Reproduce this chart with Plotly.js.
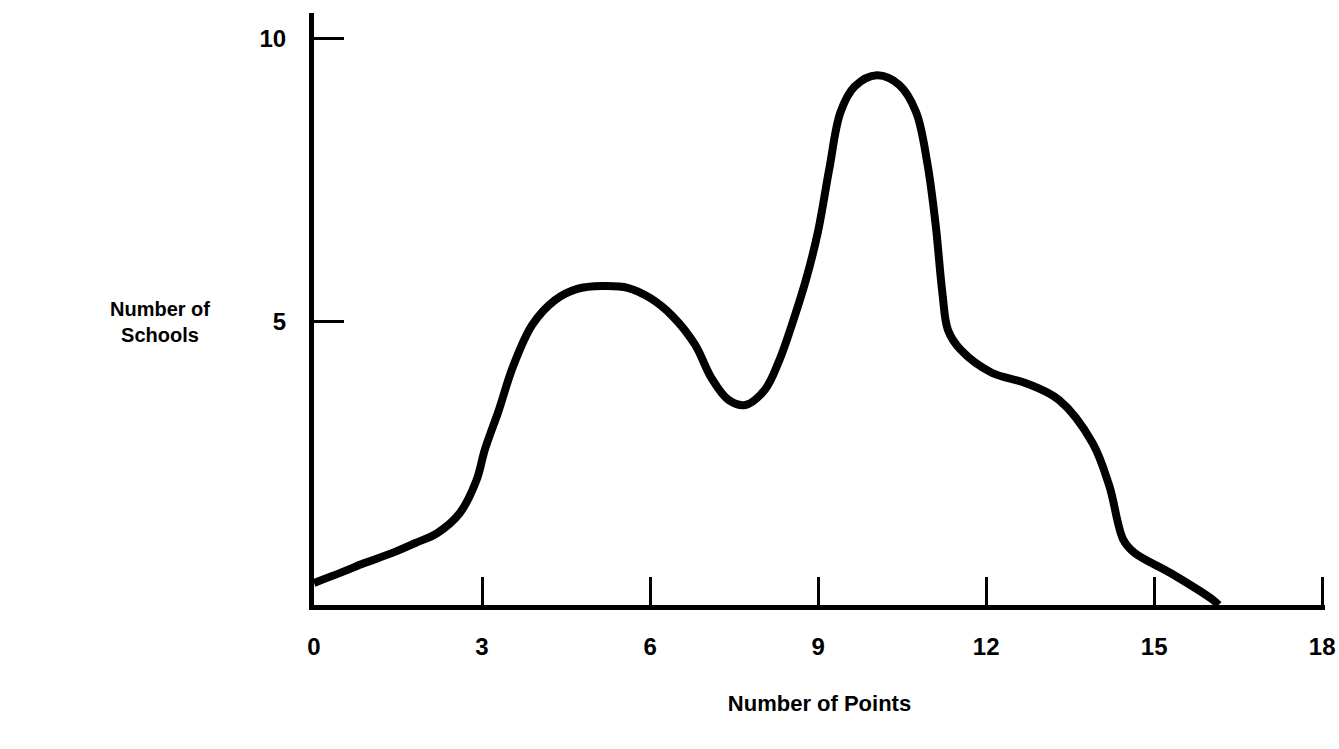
<!DOCTYPE html>
<html>
<head>
<meta charset="utf-8">
<script src="https://cdn.plot.ly/plotly-3.0.1.min.js"></script>
<style>html,body{margin:0;padding:0;background:#fff;}#chart{width:1339px;height:749px;}</style>
</head>
<body>
<div id="chart"></div>
<script>
// Number of points (x) and number of schools (y)
const pointsX = [0, 0.5, 0.9, 1.4, 1.8, 2.2, 2.6, 2.9, 3.05, 3.3, 3.55, 3.9, 4.3, 4.7, 5.15, 5.6, 6.0, 6.4, 6.8, 7.1, 7.4, 7.7, 8.05, 8.3, 8.55, 8.8, 9.0, 9.2, 9.4, 9.65, 10.05, 10.45, 10.75, 10.95, 11.1, 11.22, 11.32, 11.55, 12.1, 12.7, 13.3, 13.9, 14.2, 14.45, 14.65, 15.3, 16.05, 16.15];
const schoolsY = [0.39, 0.58, 0.74, 0.92, 1.09, 1.27, 1.62, 2.2, 2.74, 3.44, 4.2, 4.95, 5.38, 5.58, 5.63, 5.6, 5.42, 5.1, 4.6, 4.0, 3.62, 3.53, 3.8, 4.3, 5.0, 5.8, 6.6, 7.7, 8.7, 9.15, 9.35, 9.18, 8.7, 7.8, 6.7, 5.5, 4.85, 4.5, 4.1, 3.92, 3.62, 2.86, 2.1, 1.15, 0.92, 0.56, 0.09, 0];

const xTickVals = [0, 3, 6, 9, 12, 15, 18];
const xTickText = ['0', '3', '6', '9', '12', '15', '18'];
const yTickVals = [5, 10];
const yTickText = ['5', '10'];

const xTitle = 'Number of Points';
const yTitle = 'Number of<br>Schools';

const FONT = 'Liberation Sans, Arial, sans-serif';

const trace = {
  x: pointsX,
  y: schoolsY,
  type: 'scatter',
  mode: 'lines',
  line: {color: '#000', width: 8, shape: 'spline', smoothing: 1},
  hoverinfo: 'skip'
};

const layout = {
  width: 1339,
  height: 749,
  margin: {l: 314, r: 14, t: 13, b: 144},
  paper_bgcolor: '#fff',
  plot_bgcolor: '#fff',
  showlegend: false,
  font: {family: FONT, color: '#000'},
  xaxis: {
    range: [0, 18.05],
    showline: true, linewidth: 5, linecolor: '#000',
    ticks: 'inside', ticklen: 28, tickwidth: 3, tickcolor: '#000',
    tickvals: xTickVals, ticktext: xTickText,
    tickfont: {family: FONT, size: 24, color: '#000', weight: 'bold'},
    ticklabelstandoff: 16,
    showgrid: false, zeroline: false, fixedrange: true,
    title: {text: '<b>' + xTitle + '</b>', font: {family: FONT, size: 22, color: '#000'}, standoff: 38}
  },
  yaxis: {
    range: [0, 10.45],
    showline: true, linewidth: 5, linecolor: '#000',
    ticks: 'inside', ticklen: 30, tickwidth: 3, tickcolor: '#000',
    tickvals: yTickVals, ticktext: yTickText,
    tickfont: {family: FONT, size: 24, color: '#000', weight: 'bold'},
    ticklabelstandoff: 18,
    showgrid: false, zeroline: false, fixedrange: true
  },
  annotations: [{
    text: '<b>' + yTitle + '</b>',
    xref: 'paper', yref: 'y',
    x: -0.152, y: 5.0,
    xanchor: 'center', yanchor: 'middle',
    showarrow: false, align: 'center',
    font: {family: FONT, size: 20, color: '#000'}
  }]
};

Plotly.newPlot('chart', [trace], layout, {displayModeBar: false, staticPlot: true});
</script>
</body>
</html>
